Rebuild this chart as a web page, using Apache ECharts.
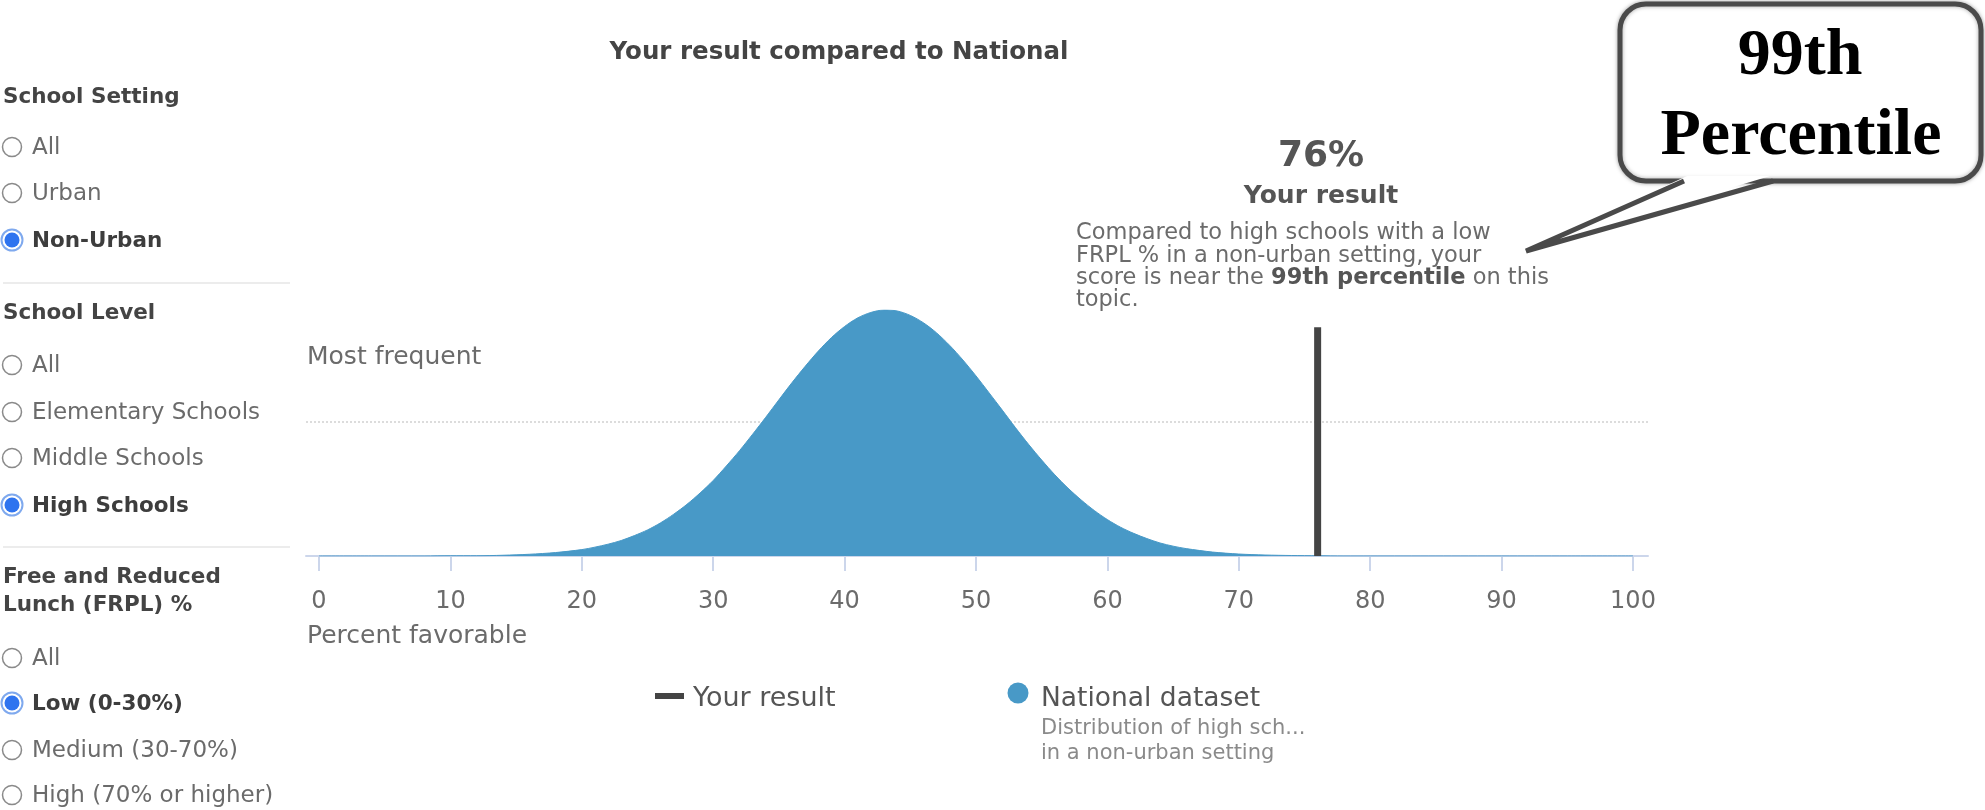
<!DOCTYPE html>
<html>
<head>
<meta charset="utf-8">
<title>Your result compared to National</title>
<script src="https://cdn.jsdelivr.net/npm/echarts/dist/echarts.min.js"></script>
<style>
  html, body { margin: 0; padding: 0; background: #fff; }
  #chart { width: 1985px; height: 810px; }
</style>
</head>
<body>
<div id="chart"></div>
<script>
// national distribution: percent favorable -> relative frequency (peak = 100)
var percentFavorable = [0, 4, 8, 10, 12, 14, 16, 18, 20, 21, 22, 23, 24, 25, 26, 27, 28, 29, 30, 31, 32, 33, 34, 35, 36, 37, 38, 39,
    40, 41, 42, 43, 44, 45, 46, 47, 48, 49, 50, 51, 52, 53, 54, 55, 56, 57, 58, 59, 60, 61, 62, 63, 64, 65, 66,
    68, 70, 72, 74, 76, 78, 80, 85, 90, 95, 100];
var frequency = [0, 0, 0, 0.1, 0.1, 0.3, 0.7, 1.4, 2.6, 3.6, 4.8, 6.3, 8.3, 10.6, 13.5, 17, 21, 25.6, 30.7, 36.6, 42.8, 49.5, 56.4, 63.5, 70.5, 77.1, 83.3, 88.8,
    93.3, 96.8, 99, 100, 99.6, 97.8, 94.8, 90.7, 85.6, 79.7, 73.2, 66.3, 59.3, 52.2, 45.4, 39, 33, 27.6, 22.8, 18.5, 14.8, 11.7, 9.2, 7.1, 5.3, 4, 3,
    1.6, 0.8, 0.4, 0.2, 0.1, 0, 0, 0, 0, 0, 0];
var yourResult = 76;
var yourResultHeight = 93;
var xTickLabels = ['0', '10', '20', '30', '40', '50', '60', '70', '80', '90', '100'];

// filter panel on the left
var filterTitles = ['School Setting', 'School Level', 'Free and Reduced\nLunch (FRPL) %'];
var settingOptions = ['All', 'Urban', 'Non-Urban'];
var levelOptions = ['All', 'Elementary Schools', 'Middle Schools', 'High Schools'];
var frplOptions = ['All', 'Low (0-30%)', 'Medium (30-70%)', 'High (70% or higher)'];
var selectedOptions = ['Non-Urban', 'High Schools', 'Low (0-30%)'];

var FONT = '"DejaVu Sans", sans-serif';
var BLUE = '#4899c7';

var chart = echarts.init(document.getElementById('chart'));

function txt(x, y, text, size, color, bold, align) {
    return {
        type: 'text',
        x: x,
        y: y,
        silent: true,
        style: {
            text: text,
            fontSize: size,
            fontFamily: FONT,
            fontWeight: bold ? 'bold' : 'normal',
            fill: color,
            align: align || 'left',
            verticalAlign: 'middle'
        }
    };
}

function radio(cy, label, selected) {
    var items = [];
    if (selected) {
        items.push({type: 'circle', shape: {cx: 12, cy: cy, r: 10.5}, style: {fill: '#fff', stroke: '#7fa9ee', lineWidth: 2}});
        items.push({type: 'circle', shape: {cx: 12, cy: cy, r: 7.5}, style: {fill: '#2f74ef'}});
        items.push(txt(32, cy + 1, label, 21.5, '#3d3d3d', true));
    } else {
        items.push({type: 'circle', shape: {cx: 12, cy: cy, r: 9.5}, style: {fill: '#fff', stroke: '#8a8a8a', lineWidth: 1.5}});
        items.push(txt(32, cy + 1, label, 23, '#6b6b6b', false));
    }
    return items;
}

var panel = [];
panel.push(txt(3, 97, filterTitles[0], 21.5, '#444', true));
[147, 193, 240].forEach(function (y, i) {
    panel = panel.concat(radio(y, settingOptions[i], settingOptions[i] === selectedOptions[0]));
});
panel.push({type: 'line', shape: {x1: 3, y1: 283, x2: 290, y2: 283}, style: {stroke: '#e6e6e6', lineWidth: 1.5}});
panel.push(txt(3, 313, filterTitles[1], 21.5, '#444', true));
[365, 412, 458, 505].forEach(function (y, i) {
    panel = panel.concat(radio(y, levelOptions[i], levelOptions[i] === selectedOptions[1]));
});
panel.push({type: 'line', shape: {x1: 3, y1: 547, x2: 290, y2: 547}, style: {stroke: '#e6e6e6', lineWidth: 1.5}});
var t3 = txt(3, 591, filterTitles[2], 21.5, '#444', true);
t3.style.lineHeight = 28;
panel.push(t3);
[658, 703, 750, 795].forEach(function (y, i) {
    panel = panel.concat(radio(y, frplOptions[i], frplOptions[i] === selectedOptions[2]));
});

// result annotation and callout
var notes = [
    txt(839, 53, 'Your result compared to National', 24.5, '#444', true, 'center'),
    txt(1321, 157, yourResult + '%', 36, '#555', true, 'center'),
    txt(1321, 196, 'Your result', 25, '#555', true, 'center'),
    txt(1076, 233, 'Compared to high schools with a low', 22.5, '#6b6b6b'),
    txt(1076, 256, 'FRPL % in a non-urban setting, your', 22.5, '#6b6b6b'),
    {
        type: 'text', x: 1076, y: 278, silent: true,
        style: {
            text: 'score is near the {b|99th percentile} on this',
            fontSize: 22.5, fontFamily: FONT, fill: '#6b6b6b', verticalAlign: 'middle',
            rich: {b: {fontSize: 22.5, fontFamily: FONT, fontWeight: 'bold', fill: '#555'}}
        }
    },
    txt(1076, 300, 'topic.', 22.5, '#6b6b6b'),
    txt(307, 357, 'Most frequent', 25, '#6b6b6b'),
    txt(307, 636, 'Percent favorable', 25, '#6b6b6b'),
    // legend
    {type: 'rect', shape: {x: 655, y: 693, width: 29, height: 6}, style: {fill: '#444'}},
    txt(693, 699, 'Your result', 27, '#555'),
    {type: 'circle', shape: {cx: 1018, cy: 693, r: 10.5}, style: {fill: BLUE}},
    txt(1041, 699, 'National dataset', 26.5, '#555'),
    txt(1041, 729, 'Distribution of high sch...', 21, '#8a8a8a'),
    txt(1041, 754, 'in a non-urban setting', 21, '#8a8a8a'),
    // speech bubble
    {
        type: 'rect', shape: {x: 1620, y: 4, width: 361, height: 177, r: 26},
        style: {fill: '#fff', stroke: '#4a4a4a', lineWidth: 5, shadowBlur: 4, shadowColor: 'rgba(0,0,0,0.35)'}
    },
    {type: 'polygon', shape: {points: [[1687, 176], [1528, 249], [1770, 176]]}, style: {fill: '#fff'}},
    {type: 'polyline', shape: {points: [[1684, 181], [1526, 251], [1773, 181]]}, style: {stroke: '#4a4a4a', lineWidth: 5, fill: null, lineJoin: 'miter'}},
    {
        type: 'text', x: 1800, y: 57, silent: true,
        style: {text: '99th', fontSize: 66, fontFamily: '"Liberation Serif", serif', fontWeight: 'bold', fill: '#000', align: 'center', verticalAlign: 'middle'}
    },
    {
        type: 'text', x: 1801, y: 137, silent: true,
        style: {text: 'Percentile', fontSize: 66, fontFamily: '"Liberation Serif", serif', fontWeight: 'bold', fill: '#000', align: 'center', verticalAlign: 'middle'}
    }
];

var nationalData = percentFavorable.map(function (x, i) {
    return [x, frequency[i]];
});

var option = {
    animation: false,
    backgroundColor: '#fff',
    grid: [
        {left: 319, right: 352, top: 310, bottom: 254},
        // wider frame for the baseline and the dotted "most frequent" line
        {left: 306, right: 337, top: 422, bottom: 254}
    ],
    xAxis: [{
        gridIndex: 0,
        type: 'value',
        min: 0,
        max: 100,
        interval: 10,
        axisLine: {show: false},
        axisTick: {show: true, length: 15, lineStyle: {color: '#ccd6eb', width: 2}},
        axisLabel: {
            margin: 34, fontSize: 24, color: '#6b6b6b', fontFamily: FONT,
            formatter: function (v) { return xTickLabels[Math.round(v / 10)]; }
        },
        splitLine: {show: false}
    }, {
        gridIndex: 1,
        type: 'value',
        min: 0,
        max: 1,
        axisLine: {show: true, lineStyle: {color: '#ccd6eb', width: 2}},
        axisTick: {show: false},
        axisLabel: {show: false},
        splitLine: {show: false}
    }],
    yAxis: [{
        gridIndex: 0,
        type: 'value',
        min: 0,
        max: 100,
        show: false
    }, {
        gridIndex: 1,
        type: 'value',
        min: 0,
        max: 1,
        interval: 1,
        axisLine: {show: false},
        axisTick: {show: false},
        axisLabel: {show: false},
        splitLine: {show: true, lineStyle: {type: 'dotted', color: '#dcdcdc', width: 2}}
    }],
    series: [{
        name: 'National dataset',
        type: 'line',
        xAxisIndex: 0,
        yAxisIndex: 0,
        data: nationalData,
        smooth: 0.3,
        symbol: 'none',
        lineStyle: {color: BLUE, width: 1},
        areaStyle: {color: BLUE, opacity: 1},
        z: 2
    }, {
        name: 'Your result',
        type: 'line',
        xAxisIndex: 0,
        yAxisIndex: 0,
        data: [[yourResult, 0], [yourResult, yourResultHeight]],
        symbol: 'none',
        lineStyle: {color: '#444', width: 7, cap: 'butt'},
        z: 3
    }],
    graphic: panel.concat(notes)
};

chart.setOption(option);
</script>
</body>
</html>
